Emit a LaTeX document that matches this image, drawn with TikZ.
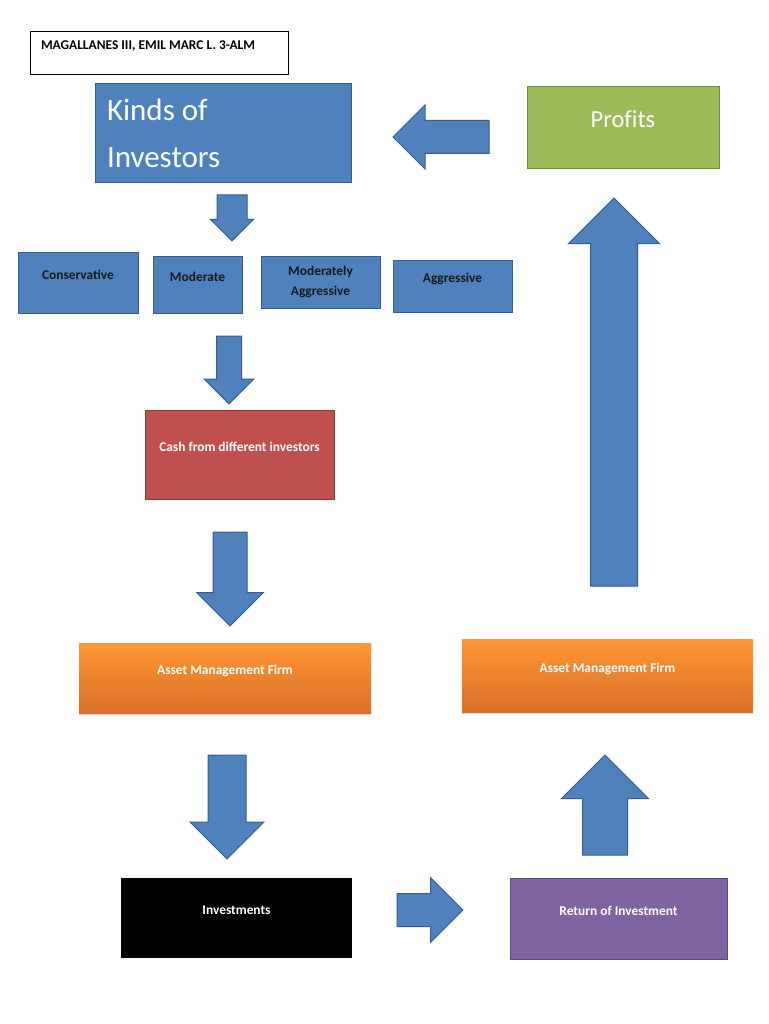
\documentclass[tikz,border=0pt]{standalone}
\usepackage{fontspec}
\setmainfont{Carlito}
\usetikzlibrary{shapes.arrows,shadows}
\definecolor{kblue}{HTML}{4F81BD}
\definecolor{kblueline}{HTML}{385D8A}
\definecolor{kgreen}{HTML}{9BBB59}
\definecolor{kgreenline}{HTML}{71893F}
\definecolor{kred}{HTML}{C0504D}
\definecolor{kredline}{HTML}{8C3836}
\definecolor{kpurple}{HTML}{8064A2}
\definecolor{kpurpleline}{HTML}{5C4776}
\definecolor{korangetop}{HTML}{FF9633}
\definecolor{korangebot}{HTML}{D9702A}
\tikzset{
  box/.style={draw, line width=1pt, inner sep=0pt, outer sep=0pt, align=center,
    font=\fontsize{13.4pt}{16pt}\selectfont\bfseries},
  lifted/.style={text height=10pt, text depth=17pt},
  kind/.style={box, lifted, fill=kblue, draw=kblueline, text=black!90},
  firm/.style={box, lifted, draw=none, top color=korangetop, bottom color=korangebot, text=white,
    drop shadow={opacity=0.3, shadow xshift=0pt, shadow yshift=-2pt}},
  bigarrow/.style={single arrow, draw=kblueline, fill=kblue, line width=1pt,
    inner xsep=0pt, outer sep=0pt, anchor=tail}
}
\begin{document}
\begin{tikzpicture}[x=1pt, y=-1pt]
  \useasboundingbox (0,0) rectangle (768,1024);
  \node[box, lifted, fill=white, draw=black, minimum width=258pt, minimum height=43pt,
    text width=236pt, inner xsep=11pt, align=flush left] (name) at (159,53.5) {MAGALLANES III, EMIL MARC L. 3-ALM};
  \node[box, fill=kblue, draw=kblueline, text=white, minimum width=256pt, minimum height=99pt,
    text width=232pt, inner xsep=12pt, align=flush left, font=\fontsize{31pt}{47pt}\selectfont] (kinds) at (223,133.5) {Kinds of\\Investors};
  \node[box, fill=kgreen, draw=kgreenline, text=white, minimum width=192pt, minimum height=82pt,
    font=\fontsize{24.5pt}{29pt}\selectfont\addfontfeature{Ligatures=NoCommon}, text height=17pt, text depth=17pt] (profits) at (623,128) {Profits};

  \node[kind, minimum width=120pt, minimum height=61pt] (conservative) at (78,282.5) {Conservative};
  \node[kind, minimum width=89pt, minimum height=57pt] (moderate) at (197.5,284.5) {Moderate};
  \node[box, fill=kblue, draw=kblueline, text=black!90, minimum width=119pt, minimum height=52pt,
    font=\fontsize{13.4pt}{20pt}\selectfont\bfseries] (modaggressive) at (320.5,282) {Moderately\\Aggressive};
  \node[kind, minimum width=119pt, minimum height=52pt] (aggressive) at (452.5,286) {Aggressive};

  \node[box, lifted, fill=kred, draw=kredline, text=white, minimum width=189pt, minimum height=89pt] (cash) at (239.5,454.5) {Cash from different investors};
  \node[firm, minimum width=292pt, minimum height=70pt] (firmleft) at (225,678) {Asset Management Firm};
  \node[box, lifted, fill=black, draw=black!20, line width=0.6pt, double=white, double distance=3.4pt, text=white,
    minimum width=235pt, minimum height=84pt,
    drop shadow={opacity=0.3, shadow xshift=0.5pt, shadow yshift=-1.5pt}] (investments) at (236.5,918) {Investments};
  \node[box, lifted, fill=kpurple, draw=kpurpleline, text=white, minimum width=217pt, minimum height=81pt] (return) at (618.5,918.5) {Return of Investment};
  \node[firm, minimum width=291pt, minimum height=73pt] (firmright) at (607.5,675.5) {Asset Management Firm};

  \begin{scope}[every node/.append style={bigarrow}]
    \node[rotate=180, minimum height=96pt, inner ysep=16pt, single arrow head extend=15.5pt] (toinvestors) at (489,137) {};
    \node[rotate=-90, minimum height=46pt, inner ysep=14.5pt, single arrow head extend=6.5pt] (tokinds) at (232,195) {};
    \node[rotate=-90, minimum height=68pt, inner ysep=12pt, single arrow head extend=12.5pt] (tocash) at (229,336) {};
    \node[rotate=-90, minimum height=94pt, inner ysep=16.5pt, single arrow head extend=16.5pt] (tofirm) at (230,532) {};
    \node[rotate=-90, minimum height=104pt, inner ysep=18.5pt, single arrow head extend=18pt] (toinvest) at (227,755) {};
    \node[minimum height=66pt, inner ysep=16pt, single arrow head extend=16pt] (toreturn) at (397,910) {};
    \node[rotate=90, minimum height=100pt, inner ysep=22pt, single arrow head extend=21pt] (tofirmright) at (605,855) {};
    \node[rotate=90, minimum height=388pt, inner ysep=23pt, single arrow head extend=22pt] (toprofits) at (614,586) {};
  \end{scope}
\end{tikzpicture}
\end{document}
